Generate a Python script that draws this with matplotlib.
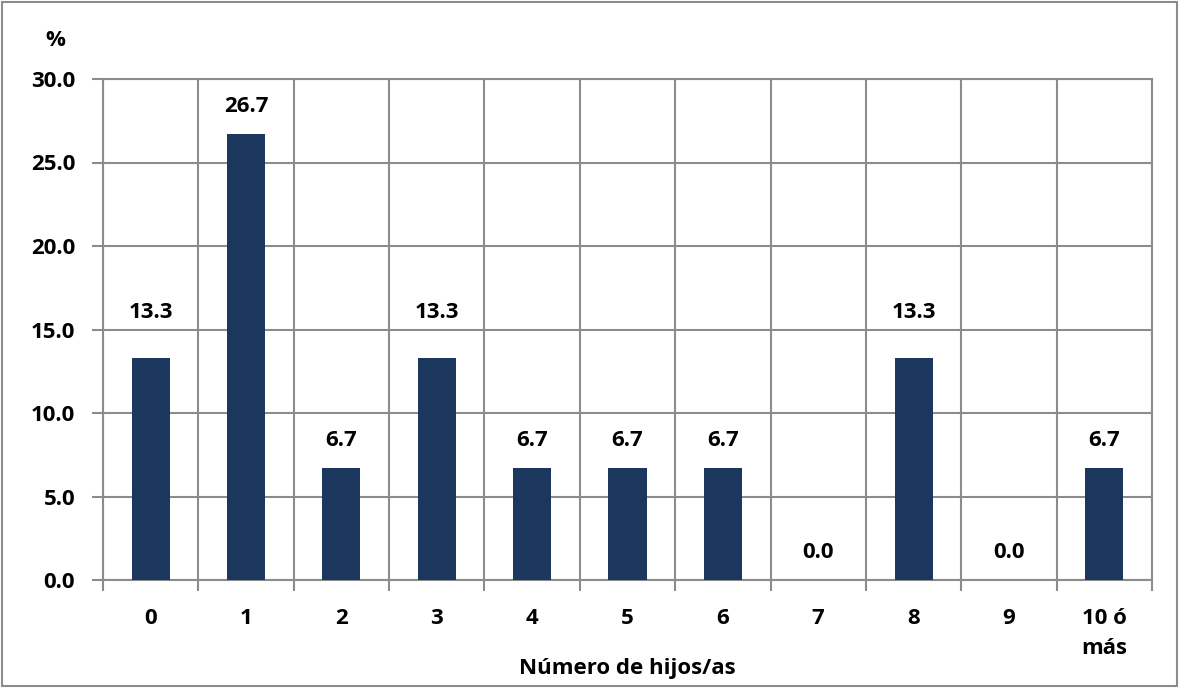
import matplotlib
matplotlib.use("Agg")
import matplotlib.pyplot as plt
import numpy as np

categories = ["0", "1", "2", "3", "4", "5", "6", "7", "8", "9", "10 ó\nmás"]
values = [13.3, 26.7, 6.7, 13.3, 6.7, 6.7, 6.7, 0.0, 13.3, 0.0, 6.7]
y_ticks = [0, 5, 10, 15, 20, 25, 30]

plt.rcParams["font.family"] = ["Open Sans", "DejaVu Sans"]
plt.rcParams["font.weight"] = "bold"

BAR = "#1b375e"
GRID = "#8c8c8c"
FS = 16

fig = plt.figure(figsize=(11.8, 6.88), dpi=100)
ax = fig.add_axes([103 / 1180, 1 - 580 / 688, (1152 - 103) / 1180, (580 - 79) / 688])

x = np.arange(len(categories))
ax.bar(x, values, width=0.4, color=BAR, zorder=3)

# value labels; those that would sit on the 15.0 gridline are lifted above it
for xi, v in zip(x, values):
    lift = 32.5 if 12 < v < 15 else 20
    ax.annotate(f"{v:.1f}", (xi, v), xytext=(0, lift), textcoords="offset points",
                ha="center", va="center", fontsize=FS, fontweight="bold", color="black")

ax.set_xlim(-0.5, len(categories) - 0.5)
ax.set_ylim(0, 30)
ax.set_yticks(y_ticks)
ax.set_yticklabels([f"{t:.1f}" for t in y_ticks])
ax.set_xticks(x)
ax.set_xticklabels(categories, va="top", linespacing=1.6)
ax.set_xticks(np.arange(-0.5, len(categories), 1.0), minor=True)

ax.tick_params(axis="x", which="major", length=0, pad=20, labelsize=FS)
ax.tick_params(axis="x", which="minor", length=8, width=1.5, color=GRID)
ax.tick_params(axis="y", which="major", length=8, width=1.5, color=GRID, pad=12, labelsize=FS)

ax.grid(axis="y", which="major", color=GRID, linewidth=1.5, zorder=0)
ax.grid(axis="x", which="minor", color=GRID, linewidth=1.5, zorder=0)
ax.grid(axis="x", which="major", visible=False)
for s in ax.spines.values():
    s.set_color(GRID)
    s.set_linewidth(1.5)

ax.set_xlabel("Número de hijos/as", fontsize=FS, fontweight="bold", labelpad=-1)
fig.text(55 / 1180, 1 - 40 / 688, "%", ha="center", va="center", fontsize=FS, fontweight="bold")

# outer frame
fig.patches.append(plt.Rectangle((2 / 1180, 2 / 688), 1175 / 1180, 684 / 688,
                                 transform=fig.transFigure, fill=False,
                                 edgecolor=GRID, linewidth=1.5))

fig.savefig("out.png", dpi=100)
